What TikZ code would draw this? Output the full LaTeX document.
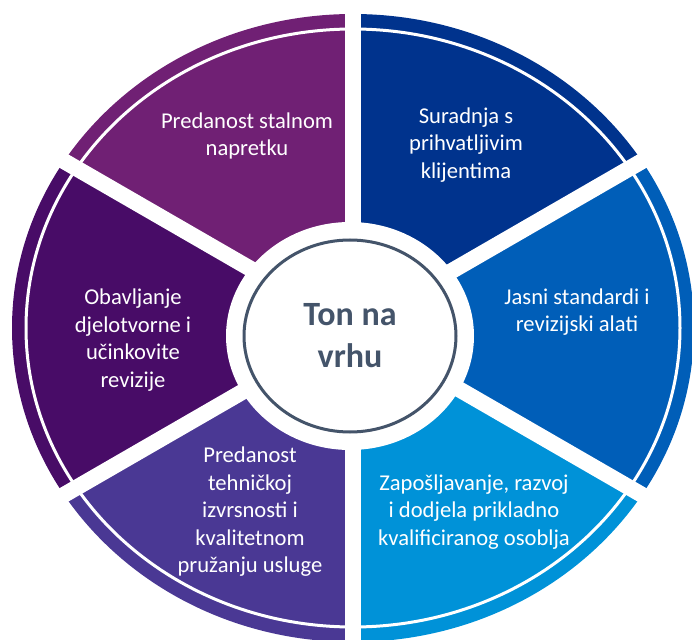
\documentclass[tikz,border=0pt]{standalone}
\usepackage{fontspec}
\setmainfont{Carlito}
\usetikzlibrary{shapes.geometric}
\definecolor{stalni}{RGB}{112,32,116}
\definecolor{suradnja}{RGB}{0,51,141}
\definecolor{jasni}{RGB}{0,94,184}
\definecolor{osoblje}{RGB}{0,146,216}
\definecolor{tehnicki}{RGB}{74,56,148}
\definecolor{revizija}{RGB}{72,12,103}
\definecolor{slate}{RGB}{68,84,106}
\tikzset{
  segment text/.style={
    text=white,
    align=center,
    font=\fontsize{11.3}{13.75}\selectfont
  },
  gap line/.style={
    draw=white,
    line width=8pt
  },
  hub/.style={
    ellipse,
    draw=slate,
    line width=1.5pt,
    fill=white,
    text=slate,
    align=center,
    inner sep=0pt,
    font=\bfseries\fontsize{17}{21}\selectfont
  }
}
\begin{document}
\begin{tikzpicture}[x=0.5pt,y=0.5pt]
\useasboundingbox (0,0) rectangle (692,639);
\clip (0,0) rectangle (692,639);
\coordinate (c) at (353,311);
\coordinate (m) at (350,303);
% six coloured segments
\begin{scope}
  \clip (c) ellipse [x radius=341, y radius=314];
  \foreach \a/\b/\col in {30/90/suradnja, -30/30/jasni, -90/-30/osoblje,
                          -150/-90/tehnicki, 150/210/revizija, 90/150/stalni}
    \fill[\col] (c) -- +(\a:800) -- +({(\a+\b)/2}:800) -- +(\b:800) -- cycle;
\end{scope}
% thin white ring inside the rim
\draw[white, line width=1.5pt] (c) ellipse [x radius=327, y radius=299];
% gaps between segments
\foreach \a in {30,90,150,210,270,330}
  \draw[gap line] (c) -- +(\a:800);
\fill[white] (m) ellipse [x radius=124, y radius=114];
% centre
\node[hub, minimum width=106pt, minimum height=96pt] (ton) at (m) {Ton na\\vrhu};
% labels
\node[segment text] (napredak) at (247,503) {Predanost stalnom\\napretku};
\node[segment text] (klijenti) at (466,494) {Suradnja s\\prihvatljivim\\klijentima};
\node[segment text] (alati) at (577,327) {Jasni standardi i\\revizijski alati};
\node[segment text] (revizije) at (133,299) {Obavljanje\\djelotvorne i\\učinkovite\\revizije};
\node[segment text] (kvaliteta) at (250,127) {Predanost\\tehničkoj\\izvrsnosti i\\kvalitetnom\\pružanju usluge};
\node[segment text] (osoblja) at (474,127) {Zapošljavanje, razvoj\\i dodjela prikladno\\kvalificiranog osoblja};
\end{tikzpicture}
\end{document}
